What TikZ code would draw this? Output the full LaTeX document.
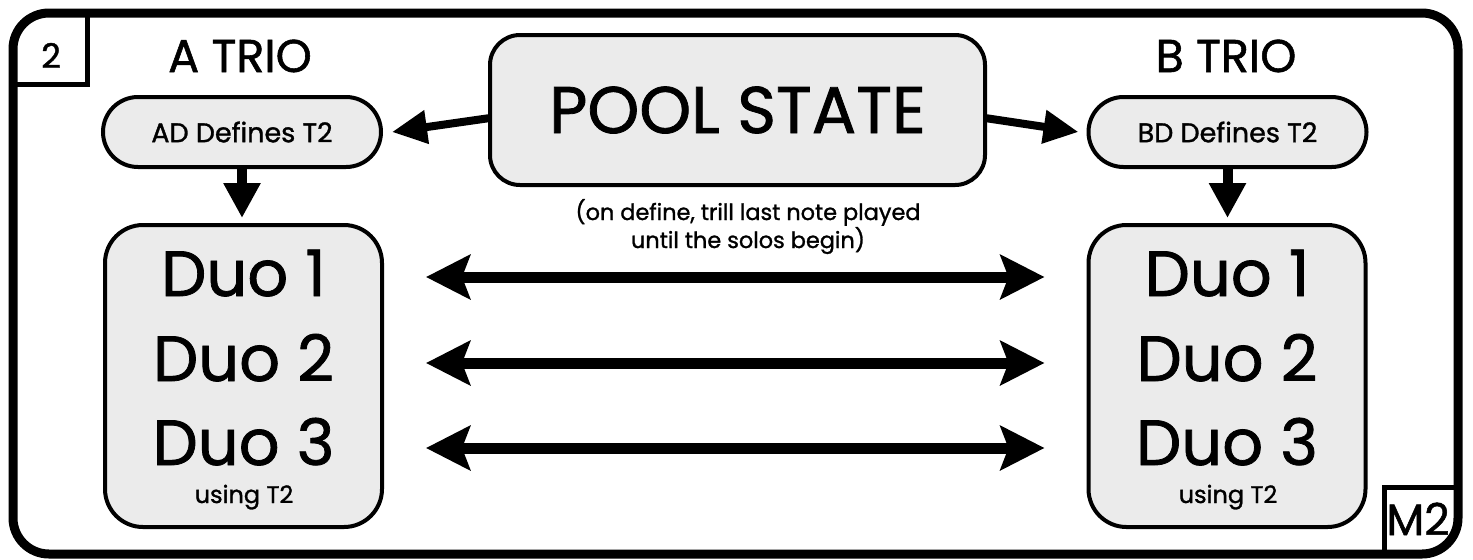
\documentclass[tikz,border=0pt]{standalone}
\usepackage{fontspec}
\setmainfont{Poppins}[FakeBold=1.2]
\usetikzlibrary{arrows.meta,calc}
\definecolor{boxgray}{RGB}{235,235,235}
\begin{document}
\begin{tikzpicture}[x=0.5pt,y=-0.5pt,
  frame/.style={line width=4.5pt, rounded corners=18pt},
  tagline/.style={line width=2.5pt},
  box/.style={draw, line width=2pt, fill=boxgray, inner sep=0pt, outer sep=0pt},
  pillbox/.style={box, rounded corners=17.5pt, minimum width=139pt, minimum height=35pt, font=\fontsize{13.5}{13.5}\selectfont},
  duobox/.style={box, rounded corners=19pt, minimum width=138.5pt, minimum height=151pt},
  poolbox/.style={box, rounded corners=15pt, minimum width=247.5pt, minimum height=75pt, font=\fontsize{33}{33}\selectfont},
  lbl/.style={anchor=base, inner sep=0pt},
  duofont/.style={lbl, font=\fontsize{32}{32}\selectfont},
  capfont/.style={lbl, font=\fontsize{11.2}{11.2}\selectfont},
  usefont/.style={lbl, font=\fontsize{12}{12}\selectfont},
  triofont/.style={lbl, font=\fontsize{23}{23}\selectfont},
  darr/.style={line width=5.5pt, {Stealth[length=22pt,width=22pt,inset=4pt]}-{Stealth[length=22pt,width=22pt,inset=4pt]}, shorten <=22pt, shorten >=22pt},
  downarr/.style={line width=5pt, -{Triangle[length=17.5pt,width=17.5pt]}, shorten >=3.5pt},
  diagarr/.style={line width=4pt, -{Triangle[length=17.5pt,width=16pt]}}
]
\useasboundingbox (0,0) rectangle (1473,559);

% outer frame
\draw[frame] (13,13) rectangle (1458,554);

% corner tags
\draw[tagline] (13,84.5) -- (87.5,84.5) -- (87.5,13);
\node[lbl, font=\fontsize{17}{17}\selectfont] (tag2) at (51,68) {2};
\draw[tagline] (1384.5,554) -- (1384.5,487.5) -- (1458,487.5);
\node[lbl, font=\fontsize{22}{22}\selectfont] (tagm2) at (1418,535) {M2};

% titles
\node[triofont] (atrio) at (240,72) {A TRIO};
\node[triofont] (btrio) at (1226,72) {B TRIO};

% define boxes
\node[pillbox] (ad) at (242,132) {AD Defines T2};
\node[pillbox] (bd) at (1227.5,132) {BD Defines T2};

% pool state
\node[poolbox] (pool) at (737.5,110) {POOL STATE};
\node[capfont] (cap1) at (748,220) {(on define, trill last note played};
\node[capfont] (cap2) at (748,248) {until the solos begin)};

% duo boxes
\node[duobox] (duoA) at (243.5,376) {};
\node[duobox] (duoB) at (1227,376) {};
\node[duofont] (a1) at (243.5,296) {Duo 1};
\node[duofont] (a2) at (243.5,381) {Duo 2};
\node[duofont] (a3) at (243.5,465) {Duo 3};
\node[usefont] (au) at (244,503) {using T2};
\node[duofont] (b1) at (1227,296) {Duo 1};
\node[duofont] (b2) at (1227,381) {Duo 2};
\node[duofont] (b3) at (1227,465) {Duo 3};
\node[usefont] (bu) at (1228,503) {using T2};

% arrows
\draw[diagarr] ([yshift=-4pt]pool.west) -- ([xshift=5.5pt]ad.east);
\draw[diagarr] ([yshift=-4pt]pool.east) -- ([xshift=-5pt]bd.west);
\draw[downarr] (ad.south) -- (ad.south |- duoA.north);
\draw[downarr] (bd.south) -- (bd.south |- duoB.north);

\coordinate (r1) at (0,277);
\coordinate (r2) at (0,363);
\coordinate (r3) at (0,448);
\draw[darr] (duoA.east |- r1) -- (duoB.west |- r1);
\draw[darr] (duoA.east |- r2) -- (duoB.west |- r2);
\draw[darr] (duoA.east |- r3) -- (duoB.west |- r3);
\end{tikzpicture}
\end{document}
